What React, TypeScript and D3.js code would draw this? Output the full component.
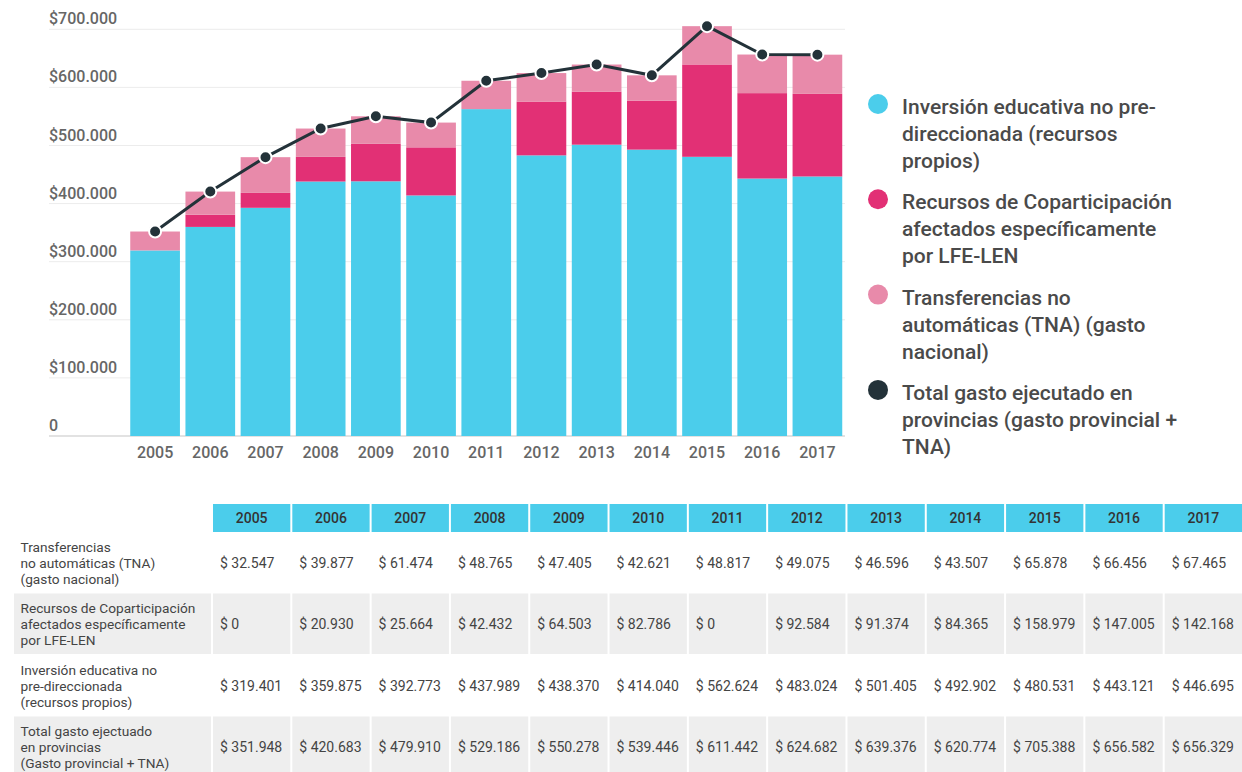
import { useEffect, useRef } from 'react';
import * as d3 from 'd3';

// Data
const years = ['2005', '2006', '2007', '2008', '2009', '2010', '2011', '2012', '2013', '2014', '2015', '2016', '2017'];
const inversion = [319401, 359875, 392773, 437989, 438370, 414040, 562624, 483024, 501405, 492902, 480531, 443121, 446695];
const coparticipacion = [0, 20930, 25664, 42432, 64503, 82786, 0, 92584, 91374, 84365, 158979, 147005, 142168];
const tna = [32547, 39877, 61474, 48765, 47405, 42621, 48817, 49075, 46596, 43507, 65878, 66456, 67465];
const total = [351948, 420683, 479910, 529186, 550278, 539446, 611442, 624682, 639376, 620774, 705388, 656582, 656329];
const yTicks = [0, 100000, 200000, 300000, 400000, 500000, 600000, 700000];

const seriesKeys = ['inversion', 'coparticipacion', 'tna'];
const colors = {
  inversion: '#4bcdeb',
  coparticipacion: '#e23075',
  tna: '#e88aaa',
  total: '#233239',
};

const legendItems = [
  { color: colors.inversion, lines: ['Inversión educativa no pre-', 'direccionada (recursos', 'propios)'] },
  { color: colors.coparticipacion, lines: ['Recursos de Coparticipación', 'afectados específicamente', 'por LFE-LEN'] },
  { color: colors.tna, lines: ['Transferencias no', 'automáticas (TNA) (gasto', 'nacional)'] },
  { color: colors.total, lines: ['Total gasto ejecutado en', 'provincias (gasto provincial +', 'TNA)'] },
];

const tableRows = [
  { label: ['Transferencias', 'no automáticas (TNA)', '(gasto nacional)'], values: tna },
  { label: ['Recursos de Coparticipación', 'afectados específicamente', 'por LFE-LEN'], values: coparticipacion },
  { label: ['Inversión educativa no', 'pre-direccionada', '(recursos propios)'], values: inversion },
  { label: ['Total gasto ejectuado', 'en provincias', '(Gasto provincial + TNA)'], values: total },
];

const locale = d3.formatLocale({ decimal: ',', thousands: '.', grouping: [3], currency: ['$', ''] });
const fmt = locale.format(',.0f');

export default function App() {
  const svgRef = useRef<SVGSVGElement>(null);

  useEffect(() => {
    const svg = d3.select(svgRef.current);
    svg.selectAll('*').remove();

    const font = 'Roboto, "Noto Sans", sans-serif';

    // Scales
    const x = d3.scaleBand().domain(years).range([127.5, 845]).paddingInner(0.1).paddingOuter(0.05);
    const y = d3.scaleLinear().domain([0, 700000]).range([436, 29.3]);

    // Gridlines + y labels
    const grid = svg.append('g');
    grid.selectAll('line')
      .data(yTicks)
      .enter()
      .append('line')
      .attr('x1', 49)
      .attr('x2', 845)
      .attr('y1', d => y(d))
      .attr('y2', d => y(d))
      .attr('stroke', d => (d === 0 ? '#e2e2e2' : '#ececec'))
      .attr('stroke-width', d => (d === 0 ? 2 : 1));

    grid.selectAll('text')
      .data(yTicks)
      .enter()
      .append('text')
      .attr('x', 49)
      .attr('y', d => y(d) - 5)
      .attr('font-family', font)
      .attr('font-size', 16)
      .attr('font-weight', 500)
      .attr('fill', '#666')
      .text(d => (d === 0 ? '0' : '$' + fmt(d)));

    // Stacked bars
    const rows = years.map((yr, i) => ({
      year: yr,
      inversion: inversion[i],
      coparticipacion: coparticipacion[i],
      tna: tna[i],
    }));
    const stacked = d3.stack<any>().keys(seriesKeys)(rows);

    svg.append('g')
      .selectAll('g')
      .data(stacked)
      .enter()
      .append('g')
      .attr('fill', d => colors[d.key as keyof typeof colors])
      .selectAll('rect')
      .data(d => d)
      .enter()
      .append('rect')
      .attr('x', d => x(d.data.year)!)
      .attr('width', x.bandwidth())
      .attr('y', d => y(d[1]))
      .attr('height', d => y(d[0]) - y(d[1]));

    // Year labels
    svg.append('g')
      .selectAll('text')
      .data(years)
      .enter()
      .append('text')
      .attr('x', d => x(d)! + x.bandwidth() / 2)
      .attr('y', 458)
      .attr('text-anchor', 'middle')
      .attr('font-family', font)
      .attr('font-size', 16)
      .attr('font-weight', 500)
      .attr('fill', '#666')
      .text(d => d);

    // Total line
    const line = d3.line<number>()
      .x((_, i) => x(years[i])! + x.bandwidth() / 2)
      .y(d => y(d));

    svg.append('path')
      .datum(total)
      .attr('fill', 'none')
      .attr('stroke', colors.total)
      .attr('stroke-width', 3)
      .attr('d', line);

    svg.append('g')
      .selectAll('circle')
      .data(total)
      .enter()
      .append('circle')
      .attr('cx', (_, i) => x(years[i])! + x.bandwidth() / 2)
      .attr('cy', d => y(d))
      .attr('r', 6)
      .attr('fill', colors.total)
      .attr('stroke', 'white')
      .attr('stroke-width', 2);

    // Legend
    const legend = svg.append('g');
    legendItems.forEach((item, i) => {
      const base = 114 + i * 95.3;
      legend.append('circle')
        .attr('cx', 878)
        .attr('cy', base - 10)
        .attr('r', 10)
        .attr('fill', item.color);
      item.lines.forEach((ln, j) => {
        legend.append('text')
          .attr('x', 902)
          .attr('y', base + j * 27)
          .attr('font-family', font)
          .attr('font-size', 21)
          .attr('font-weight', 500)
          .attr('fill', '#4a4a4a')
          .text(ln);
      });
    });

    // Table
    const col = d3.scaleBand().domain(years).range([213, 1244]);
    const cellW = col.step() - 2;
    const rowY = d3.scaleBand<number>().domain([0, 1, 2, 3]).range([532, 778]);
    const table = svg.append('g');

    table.selectAll('rect.head')
      .data(years)
      .enter()
      .append('rect')
      .attr('x', d => col(d)!)
      .attr('y', 504)
      .attr('width', cellW)
      .attr('height', 28)
      .attr('fill', colors.inversion);

    table.selectAll('text.head')
      .data(years)
      .enter()
      .append('text')
      .attr('x', d => col(d)! + cellW / 2)
      .attr('y', 523)
      .attr('text-anchor', 'middle')
      .attr('font-family', font)
      .attr('font-size', 14)
      .attr('font-weight', 500)
      .attr('fill', '#333')
      .text(d => d);

    tableRows.forEach((row, r) => {
      const top = rowY(r)!;
      const h = rowY.step();
      const mid = top + h / 2;
      const g = table.append('g');
      if (r % 2 === 1) {
        g.append('rect')
          .attr('x', 14)
          .attr('y', top)
          .attr('width', 197)
          .attr('height', h - 1)
          .attr('fill', '#eeeeee');
        g.selectAll('rect.cell')
          .data(years)
          .enter()
          .append('rect')
          .attr('x', d => col(d)!)
          .attr('y', top)
          .attr('width', cellW)
          .attr('height', h - 1)
          .attr('fill', '#eeeeee');
      }
      row.label.forEach((ln, j) => {
        g.append('text')
          .attr('x', 20.5)
          .attr('y', mid + 5 + (j - 1) * 16.2)
          .attr('font-family', font)
          .attr('font-size', 13.7)
          .attr('fill', '#444')
          .text(ln);
      });
      g.selectAll('text.val')
        .data(row.values)
        .enter()
        .append('text')
        .attr('x', (_, i) => col(years[i])! + 7)
        .attr('y', mid + 5)
        .attr('font-family', font)
        .attr('font-size', 14)
        .attr('fill', '#444')
        .text(d => '$ ' + fmt(d));
    });
  }, []);

  return (
    <div style={{ position: 'absolute', left: 0, top: 0, background: 'white' }}>
      <svg ref={svgRef} width={1242} height={772} style={{ display: 'block' }}></svg>
    </div>
  );
}
